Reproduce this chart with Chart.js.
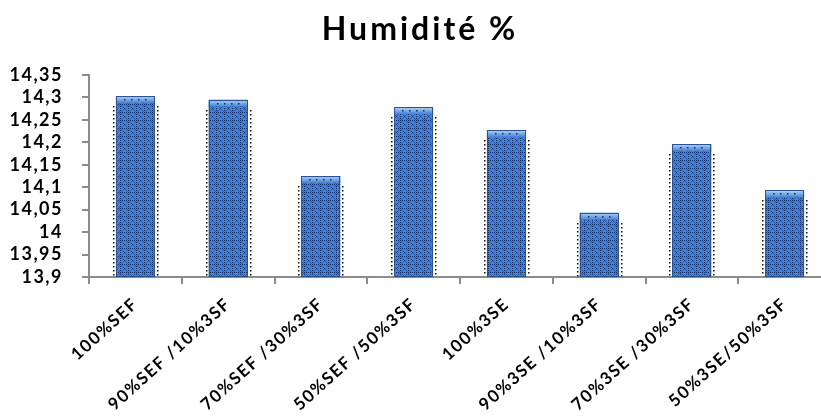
<!DOCTYPE html>
<html>
<head>
<meta charset="utf-8">
<script src="https://cdn.jsdelivr.net/npm/chart.js@4/dist/chart.umd.min.js"></script>
<style>
  html, body { margin: 0; padding: 0; background: #fff; overflow: hidden; }
  #wrap { width: 835px; height: 419px; }
</style>
</head>
<body>
<div id="wrap"><canvas id="c"></canvas></div>
<script>
// Humidity (%) per blend
const categories = [
  '100%SEF', '90%SEF /10%3SF', '70%SEF /30%3SF', '50%SEF /50%3SF',
  '100%3SE', '90%3SE /10%3SF', '70%3SE /30%3SF', '50%3SE/50%3SF'
];
const humidity = [14.303, 14.295, 14.125, 14.278, 14.227, 14.043, 14.196, 14.093];
const yTicks = [13.9, 13.95, 14, 14.05, 14.1, 14.15, 14.2, 14.25, 14.3, 14.35];
const chartTitle = 'Humidité %';

const FONT = 'Lato, "Open Sans", sans-serif';

// Cross-hatched blue fill for the bar bodies
function makeHatch() {
  const t = document.createElement('canvas');
  t.width = 8; t.height = 8;
  const g = t.getContext('2d');
  g.fillStyle = '#4682d8';
  g.fillRect(0, 0, 8, 8);
  g.fillStyle = '#2a5cae';
  for (let i = 1; i < 8; i++) {
    if (i === 4) continue;
    g.fillRect(i, i, 1, 1);
    g.fillRect(8 - i, i, 1, 1);
  }
  g.fillStyle = '#112c64';
  [[0,0],[2,0],[4,0],[6,0],[0,2],[0,4],[0,6],[4,4]].forEach(([a, b]) => g.fillRect(a, b, 1, 1));
  return g.createPattern(t, 'repeat');
}

// Letter spacing for all canvas text
const spacing = {
  id: 'spacing',
  beforeLayout(chart) { chart.ctx.letterSpacing = '1.5px'; },
  beforeDraw(chart) { chart.ctx.letterSpacing = '1.5px'; }
};

// Bar caps and dotted edges
const barDecor = {
  id: 'barDecor',
  afterDatasetsDraw(chart) {
    const ctx = chart.ctx;
    const bottom = chart.chartArea.bottom;
    chart.getDatasetMeta(0).data.forEach(bar => {
      const { x, y, width } = bar.getProps(['x', 'y', 'width'], true);
      const base = bottom;
      const l = x - width / 2, r = x + width / 2;
      ctx.save();
      const cap = 7;
      const gr = ctx.createLinearGradient(0, y, 0, y + cap);
      gr.addColorStop(0, '#b4d4f7');
      gr.addColorStop(0.5, '#79aae6');
      gr.addColorStop(1, '#4580d6');
      ctx.fillStyle = gr;
      ctx.fillRect(l, y, width, cap);
      ctx.fillStyle = '#1a2d55';
      for (let px = l + 8; px < r - 5; px += 7) ctx.fillRect(Math.round(px), Math.round(y + 3), 1.5, 1.5);
      ctx.strokeStyle = '#2a5290';
      ctx.lineWidth = 1;
      ctx.strokeRect(Math.round(l) + 0.5, Math.round(y) + 0.5, Math.round(width) - 1, Math.round(base - y) - 1);
      ctx.fillStyle = '#111';
      for (let py = y + 10; py < base - 2; py += 4) {
        ctx.fillRect(Math.round(l - 3), Math.round(py), 1.5, 1.5);
        ctx.fillRect(Math.round(r + 2), Math.round(py), 1.5, 1.5);
      }
      ctx.restore();
    });
  }
};

// Spaced title drawn above the plot
const titleDraw = {
  id: 'titleDraw',
  afterDraw(chart) {
    const ctx = chart.ctx;
    ctx.save();
    ctx.letterSpacing = '3px';
    ctx.font = 'bold 32px ' + FONT;
    ctx.fillStyle = '#000';
    ctx.textAlign = 'center';
    ctx.textBaseline = 'alphabetic';
    ctx.fillText(chartTitle, 420, 40);
    ctx.restore();
  }
};

new Chart(document.getElementById('c'), {
  type: 'bar',
  data: {
    labels: categories,
    datasets: [{
      data: humidity,
      backgroundColor: makeHatch(),
      borderWidth: 0,
      categoryPercentage: 1,
      barPercentage: 0.42
    }]
  },
  options: {
    responsive: true,
    maintainAspectRatio: false,
    animation: false,
    layout: { padding: { top: 75, right: 4, left: 0, bottom: 0 } },
    plugins: { legend: { display: false }, title: { display: false }, tooltip: { enabled: false } },
    scales: {
      x: {
        offset: true,
        grid: { offset: true, drawOnChartArea: false, drawTicks: true, tickLength: 7, color: '#8c8c8c', lineWidth: 2 },
        border: { color: '#8c8c8c', width: 2 },
        ticks: { color: '#000', font: { family: FONT, size: 17, weight: 'bold' }, minRotation: 42, maxRotation: 42, padding: 10, autoSkip: false },
        afterFit(s) { s.height = 142; }
      },
      y: {
        min: 13.9, max: 14.35,
        grid: { drawOnChartArea: false, drawTicks: true, tickLength: 7, color: '#8c8c8c', lineWidth: 2 },
        border: { color: '#8c8c8c', width: 2 },
        ticks: {
          color: '#000', font: { family: FONT, size: 18, weight: 'bold' }, padding: 19, autoSkip: false,
          callback: v => String(Math.round(v * 100) / 100).replace('.', ',')
        },
        afterBuildTicks(s) { s.ticks = yTicks.map(v => ({ value: v })); },
        afterFit(s) { s.width = 89; }
      }
    }
  },
  plugins: [spacing, barDecor, titleDraw]
});
</script>
</body>
</html>
